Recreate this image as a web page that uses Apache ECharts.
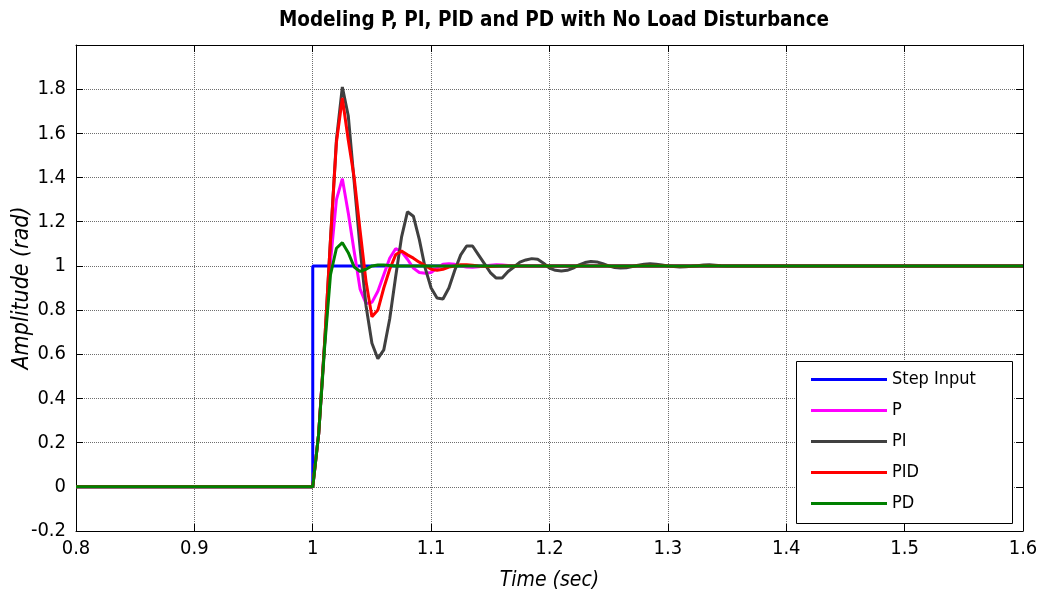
<!DOCTYPE html>
<html>
<head>
<meta charset="utf-8">
<script src="https://cdn.jsdelivr.net/npm/echarts@6/dist/echarts.min.js"></script>
<style>html,body{margin:0;padding:0;background:#fff;}#c{width:1045px;height:599px;}</style>
</head>
<body>
<div id="c"></div>
<script>
// ---- data ----
const seriesNames = ['Step Input', 'P', 'PI', 'PID', 'PD'];
const stepTime = [0.8, 1.0, 1.0, 1.6];
const stepValues = [0, 0, 1, 1];
const respTime = [0.8,
  1.000,1.005,1.010,1.015,1.020,1.025,1.030,1.035,1.040,1.045,
  1.050,1.055,1.060,1.065,1.070,1.075,1.080,1.085,1.090,1.095,
  1.100,1.105,1.110,1.115,1.120,1.125,1.130,1.135,1.140,1.145,
  1.150,1.155,1.160,1.165,1.170,1.175,1.180,1.185,1.190,1.195,
  1.200,1.205,1.210,1.215,1.220,1.225,1.230,1.235,1.240,1.245,
  1.250,1.255,1.260,1.265,1.270,1.275,1.280,1.285,1.290,1.295,
  1.300,1.305,1.310,1.315,1.320,1.325,1.330,1.335,1.340,1.345,
  1.350, 1.6];
const pValues = [0,
  0,0.24,0.64,1.02,1.30,1.395,1.24,1.065,0.895,0.83,
  0.835,0.885,0.96,1.035,1.078,1.065,1.03,0.99,0.97,0.967,
  0.97,0.99,1.008,1.01,1.007,1.0,0.995,0.994,0.996,1.0,
  1.003,1.005,1.004,1.002,1.0,0.999,0.998,0.999,1.0,1.0,
  1,1,1,1,1,1,1,1,1,1,
  1,1,1,1,1,1,1,1,1,1,
  1,1,1,1,1,1,1,1,1,1,
  1, 1];
const piValues = [0,
  0,0.24,0.65,1.12,1.57,1.81,1.68,1.38,1.08,0.82,
  0.65,0.58,0.62,0.76,0.95,1.13,1.245,1.225,1.12,0.99,
  0.90,0.855,0.85,0.90,0.98,1.05,1.09,1.09,1.05,1.01,
  0.97,0.945,0.945,0.975,0.995,1.017,1.027,1.033,1.03,1.012,
  0.99,0.98,0.977,0.98,0.99,1.005,1.015,1.02,1.018,1.01,
  1.0,0.993,0.99,0.992,0.997,1.003,1.008,1.01,1.008,1.004,
  1.0,0.997,0.995,0.996,0.998,1.001,1.004,1.005,1.003,1.001,
  1.0, 1];
const pidValues = [0,
  0,0.24,0.65,1.12,1.56,1.76,1.57,1.40,1.16,0.93,
  0.77,0.80,0.90,0.985,1.05,1.068,1.05,1.035,1.017,1.002,
  0.985,0.98,0.985,0.995,1.0,1.005,1.005,1.003,1.0,0.998,
  0.997,0.998,1.0,1,1,1,1,1,1,1,
  1,1,1,1,1,1,1,1,1,1,
  1,1,1,1,1,1,1,1,1,1,
  1,1,1,1,1,1,1,1,1,1,
  1, 1];
const pdValues = [0,
  0,0.24,0.63,0.96,1.08,1.105,1.06,0.995,0.975,0.985,
  1.0,1.004,1.004,1.002,1.0,1,1,1,1,1,
  1,1,1,1,1,1,1,1,1,1,
  1,1,1,1,1,1,1,1,1,1,
  1,1,1,1,1,1,1,1,1,1,
  1,1,1,1,1,1,1,1,1,1,
  1,1,1,1,1,1,1,1,1,1,
  1, 1];
const seriesColors = ['#0000ff', '#ff00ff', '#404040', '#ff0000', '#008000'];

// ---- chart ----
const FONT = "'Liberation Sans Narrow', 'Arial Narrow', 'DejaVu Sans Condensed', sans-serif";
const pair = (xs, ys) => xs.map((x, i) => [x, ys[i]]);
const fmt = v => String(Math.round(v * 10) / 10);
const chart = echarts.init(document.getElementById('c'), null, {renderer: 'canvas'});
const lineSeries = (name, data, color) => ({
  name, type: 'line', data, symbol: 'none', smooth: false,
  lineStyle: {color, width: 3}, itemStyle: {color},
  xAxisIndex: 0, yAxisIndex: 0, animation: false, z: 3
});
const frameTick = {show: true, inside: true, length: 7, lineStyle: {color: '#000', width: 1}};
chart.setOption({
  animation: false,
  backgroundColor: '#fff',
  title: {
    text: 'Modeling P, PI, PID and PD with No Load Disturbance',
    left: 549, top: 5, textAlign: 'center',
    textStyle: {fontFamily: FONT, fontWeight: 'bold', fontSize: 20.5, color: '#000'}
  },
  grid: {left: 76, right: 22, top: 45, bottom: 68, containLabel: false, outerBoundsMode: 'none'},
  xAxis: [{
    type: 'value', min: 0.8, max: 1.6, interval: 0.1, position: 'bottom',
    name: 'Time (sec)', nameLocation: 'middle', nameGap: 39, nameMoveOverlap: false,
    nameTextStyle: {fontFamily: FONT, fontStyle: 'italic', fontSize: 21, color: '#000'},
    axisLine: {show: true, onZero: false, lineStyle: {color: '#000', width: 1}},
    axisTick: frameTick,
    axisLabel: {fontFamily: FONT, fontSize: 20, color: '#000', margin: 8, formatter: fmt},
    splitLine: {show: true, lineStyle: {color: '#6e6e6e', type: 'dotted', width: 1}}
  }, {
    type: 'value', min: 0.8, max: 1.6, interval: 0.1, position: 'top',
    axisLine: {show: true, onZero: false, lineStyle: {color: '#000', width: 1}},
    axisTick: frameTick, axisLabel: {show: false}, splitLine: {show: false}
  }],
  yAxis: [{
    type: 'value', min: -0.2, max: 2, interval: 0.2, position: 'left',
    name: 'Amplitude (rad)', nameLocation: 'middle', nameGap: 42, nameMoveOverlap: false,
    nameTextStyle: {fontFamily: FONT, fontStyle: 'italic', fontSize: 23, color: '#000'},
    axisLine: {show: true, onZero: false, lineStyle: {color: '#000', width: 1}},
    axisTick: frameTick,
    axisLabel: {fontFamily: FONT, fontSize: 20, color: '#000', margin: 10,
      formatter: v => (Math.abs(v - 2) < 1e-6 ? '' : fmt(v))},
    splitLine: {show: true, lineStyle: {color: '#6e6e6e', type: 'dotted', width: 1}}
  }, {
    type: 'value', min: -0.2, max: 2, interval: 0.2, position: 'right',
    axisLine: {show: true, onZero: false, lineStyle: {color: '#000', width: 1}},
    axisTick: frameTick, axisLabel: {show: false}, splitLine: {show: false}
  }],
  legend: {
    orient: 'vertical', left: 811, top: 364, padding: 0, itemGap: 0,
    itemWidth: 76, itemHeight: 3, icon: 'rect', z: 60,
    textStyle: {fontFamily: FONT, fontSize: 18, color: '#000', lineHeight: 31},
    data: seriesNames
  },
  graphic: [{
    type: 'rect', z: 50, left: 796, top: 361,
    shape: {width: 216, height: 162},
    style: {fill: '#fff', stroke: '#000', lineWidth: 1}
  }],
  series: [
    lineSeries(seriesNames[0], pair(stepTime, stepValues), seriesColors[0]),
    lineSeries(seriesNames[1], pair(respTime, pValues), seriesColors[1]),
    lineSeries(seriesNames[2], pair(respTime, piValues), seriesColors[2]),
    lineSeries(seriesNames[3], pair(respTime, pidValues), seriesColors[3]),
    lineSeries(seriesNames[4], pair(respTime, pdValues), seriesColors[4])
  ]
});
</script>
</body>
</html>
